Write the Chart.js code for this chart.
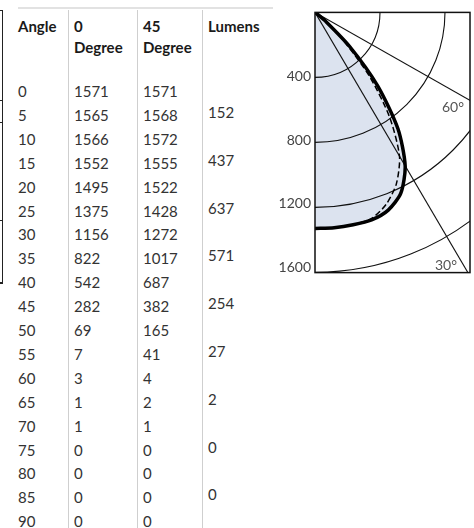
<!DOCTYPE html>
<html>
<head>
<meta charset="utf-8">
<script src="https://cdn.jsdelivr.net/npm/chart.js"></script>
<style>
body { margin: 0; width: 474px; height: 528px; background: #fff; position: relative; overflow: hidden;
       font-family: Lato, "Open Sans", sans-serif; color: #333; }
.c { position: absolute; font-size: 15px; line-height: 18px; white-space: nowrap; }
.h { font-weight: bold; color: #1a1a1a; }
.vl { position: absolute; top: 10px; bottom: 0; width: 1px; background: #cfcfcf; }
#topline { position: absolute; left: 18px; top: 7px; width: 255px; height: 2px; background: #e2e2e2; }
#frag { position: absolute; left: 2px; top: 10px; width: 1px; height: 273px; background: #222; }
.stub { position: absolute; left: 0; width: 3px; height: 1px; background: #222; }
#wrap { position: absolute; left: 270px; top: 0; }
</style>
</head>
<body>
<div id="frag"></div>
<div class="stub" style="top:10px"></div>
<div class="stub" style="top:100px"></div>
<div class="stub" style="top:122px"></div>
<div class="stub" style="top:220px"></div>
<div class="stub" style="top:282px;height:2px"></div>
<div id="topline"></div>
<div class="vl" style="left:68px"></div>
<div class="vl" style="left:137px"></div>
<div class="vl" style="left:202px"></div>
<div id="table"></div>
<div id="wrap"><canvas id="polar" width="204" height="285"></canvas></div>
<script>
// table data
var angles = [0, 5, 10, 15, 20, 25, 30, 35, 40, 45, 50, 55, 60, 65, 70, 75, 80, 85, 90];
var plane0 = [1571, 1565, 1566, 1552, 1495, 1375, 1156, 822, 542, 282, 69, 7, 3, 1, 1, 0, 0, 0, 0];
var plane45 = [1571, 1568, 1572, 1555, 1522, 1428, 1272, 1017, 687, 382, 165, 41, 4, 2, 1, 0, 0, 0, 0];
var lumenZones = [152, 437, 637, 571, 254, 27, 2, 0, 0];

// polar curve (cd)
var curveAngles = [0, 5, 10, 15, 20, 25, 30, 35, 40, 45, 50, 55, 60];
var solidCd = [1354, 1354, 1351, 1346, 1318, 1250, 1110, 890, 600, 300, 80, 12, 0];
var dashedCd = [1354, 1354, 1350, 1338, 1280, 1185, 1040, 800, 520, 240, 60, 8, 0];
var ringValues = [400, 800, 1200, 1600];
var spokeAngles = [30, 60];

// build the table
var table = document.getElementById('table');
function cell(text, x, cy, cls) {
    var d = document.createElement('div');
    d.className = 'c' + (cls ? ' ' + cls : '');
    d.style.left = x + 'px';
    d.style.top = (cy - 9) + 'px';
    d.textContent = text;
    table.appendChild(d);
}
cell('Angle', 18, 26, 'h');
cell('0', 74, 26, 'h');
cell('Degree', 74, 47, 'h');
cell('45', 143, 26, 'h');
cell('Degree', 143, 47, 'h');
cell('Lumens', 208, 26, 'h');
angles.forEach(function(a, i) {
    var cy = 91 + i * 23.9;
    cell(a, 18, cy);
    cell(plane0[i], 74, cy);
    cell(plane45[i], 143, cy);
});
lumenZones.forEach(function(v, k) {
    cell(v, 208, 91 + (2 * k + 1) * 23.9 - 3);
});

function polarPoints(values) {
    return values.map(function(r, i) {
        var t = curveAngles[i] * Math.PI / 180;
        return { x: r * Math.sin(t), y: r * Math.cos(t) };
    });
}

var polarGrid = {
    id: 'polarGrid',
    beforeDatasetsDraw: function(chart) {
        var ctx = chart.ctx, a = chart.chartArea, x = chart.scales.x, y = chart.scales.y;
        var ox = x.getPixelForValue(0), oy = y.getPixelForValue(0);
        ctx.save();
        ctx.beginPath();
        ctx.rect(a.left, a.top, a.right - a.left, a.bottom - a.top);
        ctx.clip();
        ctx.strokeStyle = '#111';
        ctx.lineWidth = 1.1;
        ringValues.forEach(function(v) {
            ctx.beginPath();
            ctx.arc(ox, oy, x.getPixelForValue(v) - ox, 0, Math.PI / 2);
            ctx.stroke();
        });
        spokeAngles.forEach(function(d) {
            var t = d * Math.PI / 180;
            ctx.beginPath();
            ctx.moveTo(ox, oy);
            ctx.lineTo(x.getPixelForValue(4000 * Math.sin(t)), y.getPixelForValue(4000 * Math.cos(t)));
            ctx.stroke();
        });
        ctx.restore();
    },
    afterDraw: function(chart) {
        var ctx = chart.ctx, a = chart.chartArea;
        ctx.save();
        ctx.strokeStyle = '#111';
        ctx.lineWidth = 1.5;
        ctx.strokeRect(a.left, a.top, a.right - a.left, a.bottom - a.top);
        ctx.fillStyle = '#555';
        ctx.font = '14px Lato, sans-serif';
        ctx.textAlign = 'right';
        ctx.textBaseline = 'middle';
        ctx.fillText('60°', a.right - 6, 107);
        ctx.fillText('30°', a.right - 13, 265);
        ctx.restore();
    }
};

var ctx = document.getElementById('polar').getContext('2d');
new Chart(ctx, {
    type: 'scatter',
    data: {
        datasets: [{
            data: polarPoints(solidCd),
            showLine: true,
            borderColor: '#000',
            borderWidth: 3.5,
            pointRadius: 0,
            tension: 0.25,
            fill: 'shape',
            backgroundColor: '#dce3ef'
        }, {
            data: polarPoints(dashedCd),
            showLine: true,
            borderColor: '#000',
            borderWidth: 1.5,
            borderDash: [6, 3],
            pointRadius: 0,
            tension: 0.25,
            fill: false
        }]
    },
    options: {
        responsive: false,
        animation: false,
        layout: { padding: { top: 9, right: 4, bottom: 11, left: 0 } },
        plugins: {
            legend: { display: false },
            tooltip: { enabled: false },
            filler: { drawTime: 'beforeDatasetsDraw' }
        },
        scales: {
            x: { type: 'linear', min: 0, max: 954, display: false },
            y: {
                type: 'linear', min: 0, max: 1630, reverse: true,
                afterFit: function(s) { s.width = 45; },
                afterBuildTicks: function(s) { s.ticks = ringValues.map(function(v) { return { value: v }; }); },
                grid: { display: false, drawTicks: false },
                border: { display: false },
                ticks: {
                    font: { family: 'Lato', size: 14 }, color: '#444', padding: 4,
                    callback: function(v) { return String(v); }
                }
            }
        }
    },
    plugins: [polarGrid]
});
</script>
</body>
</html>
